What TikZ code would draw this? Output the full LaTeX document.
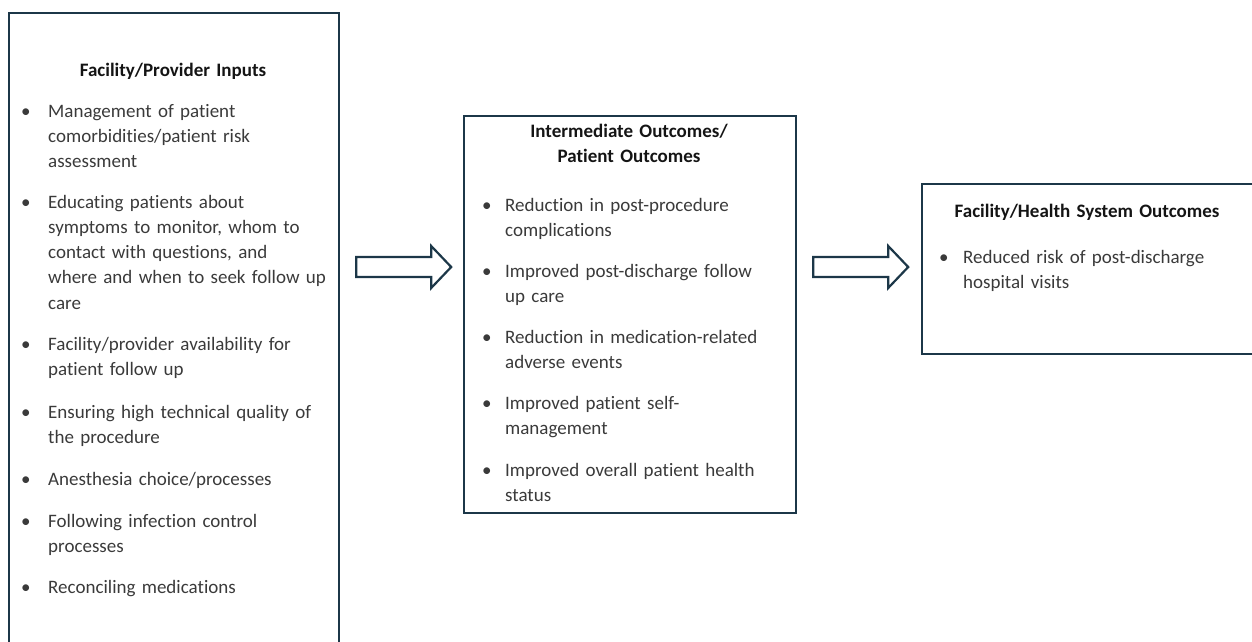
\documentclass[tikz,border=0pt]{standalone}
\usepackage{fontspec}
\setmainfont{Carlito}[Ligatures=NoCommon]
\usetikzlibrary{positioning,calc}
\definecolor{boxline}{RGB}{28,55,72}
\definecolor{bodytext}{RGB}{58,58,58}
\definecolor{headtext}{RGB}{20,20,20}
\tikzset{
  panel/.style={draw=boxline, line width=2.2pt, anchor=north west, inner sep=0pt},
  heading/.style={font=\bfseries\fontsize{19}{25.3}\selectfont, text=headtext, align=center, text width=320pt, inner sep=0pt, anchor=base},
  entry/.style={font=\fontsize{19}{25.3}\selectfont, text=bodytext, align=left, text width=300pt, inner sep=0pt, anchor=base west},
  bulletmark/.style={font=\fontsize{19}{25.3}\selectfont, text=bodytext, inner sep=0pt, anchor=base west},
  flowarrow/.style={draw=boxline, line width=2.2pt, fill=white, line join=miter},
}
\begin{document}
\begin{tikzpicture}[x=1pt, y=-1pt]
\useasboundingbox (0,0) rectangle (1252,641);
% the three panels
\node[panel, minimum width=330pt, minimum height=660pt] (inputs) at (8,12) {};
\node[panel, minimum width=332pt, minimum height=397pt] (middle) at (463,115) {};
\node[panel, minimum width=334pt, minimum height=170pt] (system) at (921,183) {};
% headings
\node[heading] (inputshead) at (173,76) {Facility/Provider Inputs};
\node[heading] (middlehead) at (629,137) {Intermediate Outcomes/\\Patient Outcomes};
\node[heading] (systemhead) at (1087,217) {Facility/Health System Outcomes};
% facility/provider inputs
\node[entry] (in1) at (48,117) {Management of patient\\comorbidities/patient risk\\assessment};
\node[entry] (in2) at (48,208) {Educating patients about\\symptoms to monitor, whom to\\contact with questions, and\\where and when to seek follow up\\care};
\node[entry] (in3) at (48,350) {Facility/provider availability for\\patient follow up};
\node[entry] (in4) at (48,418) {Ensuring high technical quality of\\the procedure};
\node[entry] (in5) at (48,485) {Anesthesia choice/processes};
\node[entry] (in6) at (48,527) {Following infection control\\processes};
\node[entry] (in7) at (48,593) {Reconciling medications};
\foreach \n in {in1,in2,in3,in4,in5,in6,in7}
  \node[bulletmark] at ([xshift=-27pt]\n.base west) {\textbullet};
% intermediate outcomes
\node[entry] (mid1) at (505,211) {Reduction in post-procedure\\complications};
\node[entry] (mid2) at (505,277) {Improved post-discharge follow\\up care};
\node[entry] (mid3) at (505,343) {Reduction in medication-related\\adverse events};
\node[entry] (mid4) at (505,409) {Improved patient self-\\management};
\node[entry] (mid5) at (505,476) {Improved overall patient health\\status};
\foreach \n in {mid1,mid2,mid3,mid4,mid5}
  \node[bulletmark] at ([xshift=-23pt]\n.base west) {\textbullet};
% system outcomes
\node[entry] (sys1) at (963,263) {Reduced risk of post-discharge\\hospital visits};
\node[bulletmark] at ([xshift=-24pt]sys1.base west) {\textbullet};
% block arrows
\coordinate (a1) at ($(inputs.east |- 0,267)+(16,0)$);
\coordinate (a2) at ($(middle.east |- 0,267)+(16,0)$);
\draw[flowarrow] (a1) ++(0,-10) -- ++(75,0) -- ++(0,-11) -- ++(20,21) -- ++(-20,21) -- ++(0,-11) -- ++(-75,0) -- cycle;
\draw[flowarrow] (a2) ++(0,-10) -- ++(75,0) -- ++(0,-11) -- ++(20,21) -- ++(-20,21) -- ++(0,-11) -- ++(-75,0) -- cycle;
\end{tikzpicture}
\end{document}
